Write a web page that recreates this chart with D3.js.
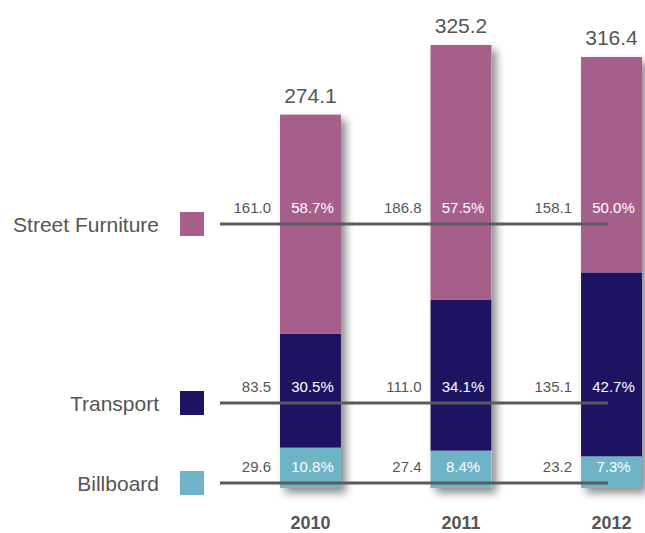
<!DOCTYPE html>
<html>
<head>
<meta charset="utf-8">
<script src="https://d3js.org/d3.v7.min.js"></script>
<style>
  body { margin: 0; background: #fff; }
  svg { display: block; font-family: "Liberation Sans", Arial, sans-serif; }
</style>
</head>
<body>
<div id="chart"></div>
<script>
// data
const years = ["2010", "2011", "2012"];
const categories = ["Billboard", "Transport", "Street Furniture"];
const billboard = [29.6, 27.4, 23.2];
const transport = [83.5, 111.0, 135.1];
const streetFurniture = [161.0, 186.8, 158.1];
const totals = [274.1, 325.2, 316.4];
const shares = {
  "Billboard": ["10.8%", "8.4%", "7.3%"],
  "Transport": ["30.5%", "34.1%", "42.7%"],
  "Street Furniture": ["58.7%", "57.5%", "50.0%"]
};
const colors = ["#6fb3c6", "#1c1461", "#a65e8b"];

const rows = years.map((yr, i) => ({
  year: yr,
  "Billboard": billboard[i],
  "Transport": transport[i],
  "Street Furniture": streetFurniture[i]
}));

const width = 645, height = 533;
const svg = d3.select("#chart").append("svg")
  .attr("width", width)
  .attr("height", height);

const defs = svg.append("defs");
defs.append("filter")
  .attr("id", "shadow")
  .attr("x", "-20%").attr("y", "-10%")
  .attr("width", "160%").attr("height", "130%")
  .append("feDropShadow")
  .attr("dx", 5).attr("dy", 5)
  .attr("stdDeviation", 4)
  .attr("flood-color", "#000")
  .attr("flood-opacity", 0.45);

const x = d3.scaleBand().domain(years).range([280, 642]).paddingInner(0.595).paddingOuter(0);
const y = d3.scaleLinear().domain([0, 325.2]).range([488, 45]);
const color = d3.scaleOrdinal().domain(categories).range(colors);

const series = d3.stack().keys(categories)(rows);

// bars with shadow
const barG = svg.append("g");
barG.selectAll("rect.shadowbox")
  .data(rows)
  .join("rect")
  .attr("x", d => x(d.year))
  .attr("width", x.bandwidth())
  .attr("y", (d, i) => y(totals[i]))
  .attr("height", (d, i) => y(0) - y(totals[i]))
  .attr("fill", "#fff")
  .attr("filter", "url(#shadow)");

barG.selectAll("g")
  .data(series)
  .join("g")
  .attr("fill", d => color(d.key))
  .selectAll("rect")
  .data(d => d)
  .join("rect")
  .attr("x", d => x(d.data.year))
  .attr("width", x.bandwidth())
  .attr("y", d => y(d[1]))
  .attr("height", d => y(d[0]) - y(d[1]));

// legend rows (line y positions)
const rowY = { "Street Furniture": 224, "Transport": 403, "Billboard": 483 };

categories.forEach((cat, ci) => {
  const ly = rowY[cat];
  svg.append("line")
    .attr("x1", 220).attr("x2", 608)
    .attr("y1", ly).attr("y2", ly)
    .attr("stroke", "#5a5a5a")
    .attr("stroke-width", 3);

  svg.append("rect")
    .attr("x", 180).attr("y", ly - 12)
    .attr("width", 24).attr("height", 24)
    .attr("fill", color(cat));

  svg.append("text")
    .attr("x", 159).attr("y", ly + 8)
    .attr("text-anchor", "end")
    .attr("fill", "#555")
    .style("font-size", "21px")
    .text(cat);

  const vals = ci === 0 ? billboard : ci === 1 ? transport : streetFurniture;
  years.forEach((yr, i) => {
    svg.append("text")
      .attr("x", x(yr) - 9).attr("y", ly - 11)
      .attr("text-anchor", "end")
      .attr("fill", "#555")
      .style("font-size", "15px")
      .text(vals[i].toFixed(1));
    svg.append("text")
      .attr("x", x(yr) + x.bandwidth() / 2 + 2).attr("y", ly - 11)
      .attr("text-anchor", "middle")
      .attr("fill", "#fff")
      .style("font-size", "15px")
      .text(shares[cat][i]);
  });
});

// totals
svg.selectAll("text.total")
  .data(totals)
  .join("text")
  .attr("class", "total")
  .attr("x", (d, i) => x(years[i]) + x.bandwidth() / 2)
  .attr("y", d => y(d) - 12)
  .attr("text-anchor", "middle")
  .attr("fill", "#555")
  .style("font-size", "21px")
  .text(d => d.toFixed(1));

// years
svg.selectAll("text.year")
  .data(years)
  .join("text")
  .attr("class", "year")
  .attr("x", d => x(d) + x.bandwidth() / 2)
  .attr("y", 529)
  .attr("text-anchor", "middle")
  .attr("fill", "#555")
  .style("font-size", "18px")
  .style("font-weight", "bold")
  .text(d => d);
</script>
</body>
</html>
